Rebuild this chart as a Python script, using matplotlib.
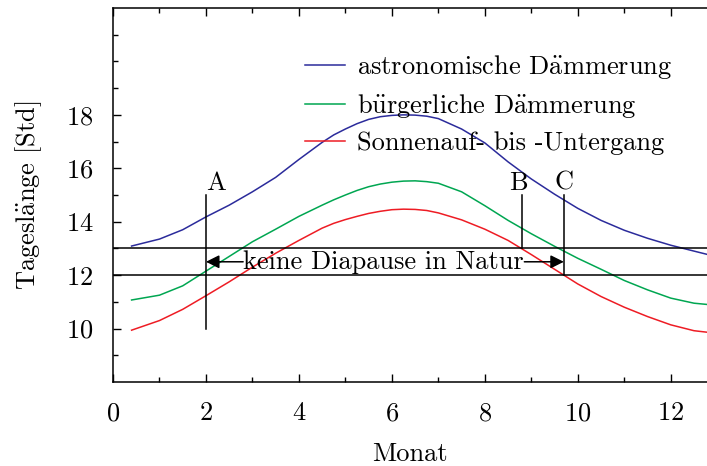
"""Tageslänge über das Jahr mit Diapause-Markierungen."""

import matplotlib

matplotlib.use("Agg")
import matplotlib.pyplot as plt

plt.rcParams["font.family"] = ["cmr10", "DejaVu Serif"]
plt.rcParams["mathtext.fontset"] = "cm"
plt.rcParams["axes.formatter.use_mathtext"] = True
plt.rcParams["font.size"] = 19

# Monat (x) und Tageslänge in Stunden
months = [0.4, 1.0, 1.5, 2.0, 2.5, 3.0, 3.5, 4.0, 4.5, 4.75, 5.0, 5.25, 5.5,
          5.75, 6.0, 6.25, 6.5, 6.75, 7.0, 7.5, 8.0, 8.5, 9.0, 9.5, 10.0,
          10.5, 11.0, 11.5, 12.0, 12.5, 12.8]
astro = [13.09, 13.35, 13.7, 14.18, 14.62, 15.12, 15.66, 16.33, 16.97, 17.25,
         17.47, 17.67, 17.83, 17.93, 17.98, 18.0, 17.99, 17.95, 17.86, 17.47,
         16.95, 16.24, 15.6, 15.03, 14.5, 14.05, 13.68, 13.38, 13.12, 12.9,
         12.77]
civil = [11.07, 11.25, 11.6, 12.15, 12.7, 13.25, 13.72, 14.2, 14.62, 14.82,
         15.0, 15.17, 15.31, 15.41, 15.48, 15.52, 15.53, 15.5, 15.44, 15.12,
         14.6, 14.05, 13.55, 13.08, 12.63, 12.22, 11.8, 11.45, 11.14, 10.95,
         10.9]
sun = [9.94, 10.3, 10.72, 11.23, 11.75, 12.3, 12.82, 13.3, 13.76, 13.94,
       14.08, 14.2, 14.31, 14.39, 14.45, 14.47, 14.46, 14.42, 14.33, 14.07,
       13.72, 13.3, 12.77, 12.22, 11.67, 11.2, 10.8, 10.45, 10.14, 9.92,
       9.86]

series_labels = [r"astronomische D$\mathrm{\"a}$mmerung",
                 r"b$\mathrm{\"u}$rgerliche D$\mathrm{\"a}$mmerung",
                 "Sonnenauf- bis -Untergang"]
series_colors = ["#2b2b9b", "#00a651", "#ee1c24"]

# Schwellen und Markierungen
thresholds = [12.0, 13.0]
marker_names = ["A", "B", "C"]
marker_x = [2.0, 8.8, 9.7]
marker_bottom = [10.0, 13.0, 12.0]
marker_top = 15.0

fig = plt.figure(figsize=(7.07, 4.66), dpi=100)
ax = fig.add_axes([113 / 707, 84 / 466, 594 / 707, 374 / 466])

for ys, lab, col in zip([astro, civil, sun], series_labels, series_colors):
    ax.plot(months, ys, color=col, lw=1.1, label=lab)

for t in thresholds:
    ax.axhline(t, color="black", lw=1.1)

for name, xm, yb in zip(marker_names, marker_x, marker_bottom):
    ax.plot([xm, xm], [yb, marker_top], color="black", lw=1.1)
ax.text(marker_x[0], marker_top, marker_names[0], ha="left", va="bottom")
ax.text(marker_x[1] - 0.08, marker_top, marker_names[1], ha="center", va="bottom")
ax.text(marker_x[2], marker_top, marker_names[2], ha="center", va="bottom")

ax.text(5.82, 12.5, "keine Diapause in Natur", ha="center", va="center")
arrow = dict(arrowstyle="-|>", color="black", lw=1.1, mutation_scale=20,
             shrinkA=0, shrinkB=0)
ax.annotate("", xy=(marker_x[0], 12.5), xytext=(2.8, 12.5), arrowprops=arrow)
ax.annotate("", xy=(marker_x[2], 12.5), xytext=(8.85, 12.5), arrowprops=arrow)

ax.set_xlim(0, 12.78)
ax.set_ylim(8, 22)
ax.set_xticks([0, 2, 4, 6, 8, 10, 12])
ax.set_xticks([1, 3, 5, 7, 9, 11], minor=True)
ax.set_yticks([10, 12, 14, 16, 18])
ax.set_yticks([9, 11, 13, 15, 17, 19, 20, 21], minor=True)
ax.tick_params(which="both", direction="in", top=True, right=False, width=1)
ax.tick_params(which="major", length=6)
ax.tick_params(which="minor", length=3.5)
ax.tick_params(axis="x", pad=14)
ax.tick_params(axis="y", pad=14)
ax.spines["right"].set_visible(False)
for s in ["left", "top", "bottom"]:
    ax.spines[s].set_linewidth(1.1)

ax.set_xlabel("Monat", labelpad=12)
ax.set_ylabel(r"Tagesl$\mathrm{\"a}$nge [Std]", labelpad=16)

ax.legend(loc="upper left", bbox_to_anchor=(0.323, 0.88), frameon=False,
          handlelength=1.52, handletextpad=0.45, labelspacing=0.42,
          borderaxespad=0, borderpad=0)

fig.savefig("out.png", dpi=100)
plt.close()
